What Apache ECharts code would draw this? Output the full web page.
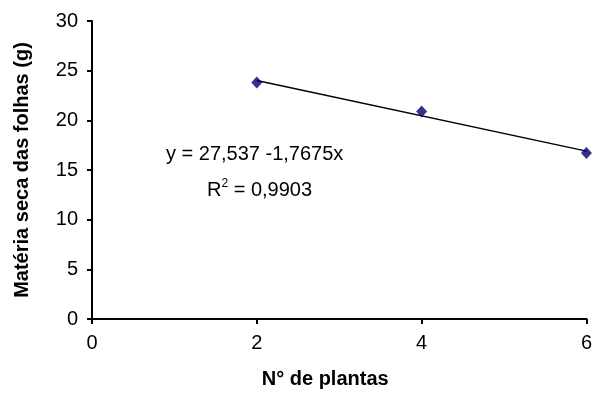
<!DOCTYPE html>
<html>
<head>
<meta charset="utf-8">
<script src="https://cdn.jsdelivr.net/npm/echarts@6/dist/echarts.min.js"></script>
<style>
  html, body { margin: 0; padding: 0; background: #fff; }
  #chart { width: 595px; height: 394px; }
</style>
</head>
<body>
<div id="chart"></div>
<script>
// observed points (plants, dry matter of leaves)
const plantas = [2, 4, 6];
const materiaSeca = [23.8, 20.9, 16.7];

// linear trend line
const trendX = [2, 6];
const trendY = [24.0, 16.9];

const xTicks = [0, 2, 4, 6];
const yTicks = [0, 5, 10, 15, 20, 25, 30];

const equacao = 'y = 27,537 -1,7675x';
const r2 = '0,9903';

const chart = echarts.init(document.getElementById('chart'));

const font = 'Liberation Sans, Arial, sans-serif';

const option = {
  backgroundColor: '#fff',
  animation: false,
  grid: { left: 92, right: 8, top: 21, bottom: 72 },
  xAxis: {
    type: 'value',
    min: xTicks[0],
    max: xTicks[xTicks.length - 1],
    interval: 2,
    name: 'N° de plantas',
    nameLocation: 'middle',
    nameGap: 50,
    // name sits a bit left of the plot centre in the original
    nameTextStyle: { fontFamily: font, fontSize: 20, fontWeight: 'bold', color: '#000', padding: [0, 28, 0, 0] },
    axisLine: { lineStyle: { color: '#000', width: 2 } },
    axisTick: { show: true, length: 5, lineStyle: { color: '#000', width: 2 } },
    axisLabel: { fontFamily: font, fontSize: 20, color: '#000', margin: 14 },
    splitLine: { show: false }
  },
  yAxis: {
    type: 'value',
    min: yTicks[0],
    max: yTicks[yTicks.length - 1],
    interval: 5,
    name: 'Matéria seca das folhas (g)',
    nameLocation: 'middle',
    nameGap: 60,
    nameTextStyle: { fontFamily: font, fontSize: 20, fontWeight: 'bold', color: '#000' },
    axisLine: { show: true, lineStyle: { color: '#000', width: 2 } },
    axisTick: { show: true, length: 5, lineStyle: { color: '#000', width: 2 } },
    axisLabel: { fontFamily: font, fontSize: 20, color: '#000', margin: 14 },
    splitLine: { show: false }
  },
  series: [
    {
      type: 'line',
      data: trendX.map((x, i) => [x, trendY[i]]),
      showSymbol: false,
      symbol: 'none',
      lineStyle: { color: '#000', width: 1.5 },
      z: 2
    },
    {
      type: 'scatter',
      data: plantas.map((x, i) => [x, materiaSeca[i]]),
      symbol: 'diamond',
      symbolSize: [11, 12],
      itemStyle: { color: '#000070' },
      z: 3
    }
  ],
  graphic: [
    {
      type: 'text',
      left: 166,
      top: 144,
      style: { text: equacao, fontFamily: font, fontSize: 20, fill: '#000' }
    },
    {
      type: 'text',
      left: 207,
      top: 178,
      style: {
        text: 'R{sup|2} = ' + r2,
        fontFamily: font,
        fontSize: 20,
        fill: '#000',
        rich: {
          sup: { fontFamily: font, fontSize: 12, verticalAlign: 'top', padding: [0, 0, 12, 0] }
        }
      }
    }
  ]
};

chart.setOption(option);
</script>
</body>
</html>
